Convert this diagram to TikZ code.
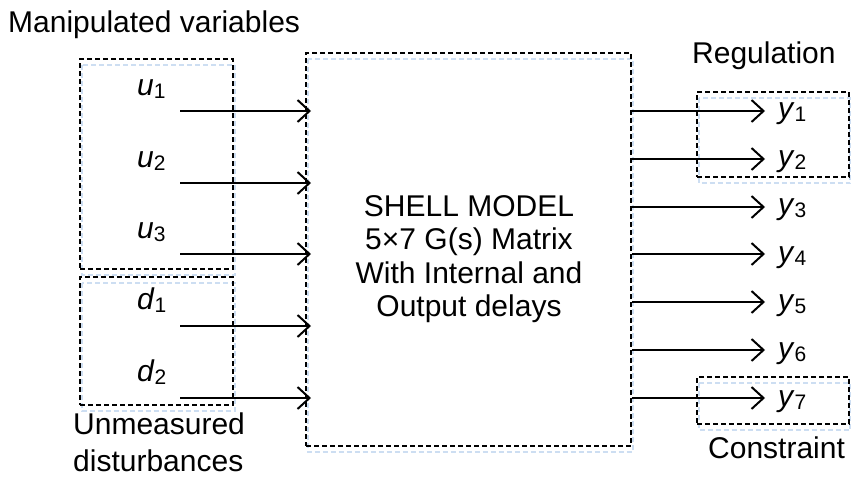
\documentclass[tikz,border=0pt]{standalone}
\usepackage{fontspec}
\setmainfont{Liberation Sans}
\usetikzlibrary{arrows.meta}
\definecolor{lblue}{RGB}{205,222,242}
\newcommand{\sv}[2]{\textit{#1}\raisebox{-3.5pt}{\fontsize{21}{21}\selectfont #2}}
\begin{document}
\begin{tikzpicture}[x=1pt,y=-1pt,
  dbox/.style={draw=black,line width=2.8pt,dash pattern=on 5pt off 3pt,inner sep=0pt},
  sbox/.style={draw=lblue,line width=2pt,dash pattern=on 5pt off 3pt},
  arr/.style={-{Straight Barb[length=12pt,width=22pt]},line width=2pt},
  lbl/.style={font=\fontsize{30}{36}\selectfont,inner sep=0pt,anchor=base west},
]
\useasboundingbox (0,0) rectangle (851,477);

% light blue shadow rectangles
\draw[sbox] (81.5,65) rectangle (234.5,275);
\draw[sbox] (81.5,283) rectangle (234.5,411);
\draw[sbox] (307.5,59) rectangle (632.5,452);
\draw[sbox] (698.5,98) rectangle (850,183);
\draw[sbox] (698.5,383) rectangle (850,430);

% boxes
\node[dbox,minimum width=153pt,minimum height=210pt] (ubox) at (156.5,164) {};
\node[dbox,minimum width=153pt,minimum height=128pt] (dbx) at (156.5,341) {};
\node[dbox,minimum width=325pt,minimum height=393pt] (main) at (468.5,249.5) {};
\node[dbox,minimum width=152pt,minimum height=85pt] (reg) at (773,134.5) {};
\node[dbox,minimum width=152pt,minimum height=47pt] (con) at (773,400.5) {};

% main text
\node[font=\fontsize{30}{33.3}\selectfont,align=center,inner sep=0pt] (mtext) at (469,259)
  {SHELL MODEL\\5×7 G(s) Matrix\\With Internal and\\Output delays};

% group labels
\node[lbl] (manip) at (8,32) {Manipulated variables};
\node[font=\fontsize{30}{37}\selectfont,align=left,inner sep=0pt,anchor=west] (unmeas) at (73,442.75) {Unmeasured\\disturbances};
\node[lbl] (regl) at (692,63) {Regulation};
\node[lbl] (conl) at (708,458) {Constraint};

% input labels
\node[lbl] (lu1) at (137,95) {\sv{u}{1}};
\node[lbl] (lu2) at (137,167) {\sv{u}{2}};
\node[lbl] (lu3) at (137,238) {\sv{u}{3}};
\node[lbl] (ld1) at (137,309) {\sv{d}{1}};
\node[lbl] (ld2) at (137,381) {\sv{d}{2}};

% output labels
\node[lbl] (ly1) at (778,118) {\sv{y}{1}};
\node[lbl] (ly2) at (778,166) {\sv{y}{2}};
\node[lbl] (ly3) at (778,214) {\sv{y}{3}};
\node[lbl] (ly4) at (778,262) {\sv{y}{4}};
\node[lbl] (ly5) at (778,310) {\sv{y}{5}};
\node[lbl] (ly6) at (778,358) {\sv{y}{6}};
\node[lbl] (ly7) at (778,406) {\sv{y}{7}};

% input arrow coordinates
\coordinate (ie) at (311,0);
\coordinate (i1) at (180,111);
\coordinate (i2) at (180,183);
\coordinate (i3) at (180,254);
\coordinate (i4) at (180,326);
\coordinate (i5) at (180,398);
\foreach \i in {1,...,5}{
  \draw[arr] (i\i) -- (i\i -| ie);
}

% output arrow coordinates
\coordinate (o1) at (765,111);
\coordinate (o2) at (765,159);
\coordinate (o3) at (765,207);
\coordinate (o4) at (765,254);
\coordinate (o5) at (765,302);
\coordinate (o6) at (765,350);
\coordinate (o7) at (765,398);
\foreach \i in {1,...,7}{
  \draw[arr] (main.east |- o\i) -- (o\i);
}
\end{tikzpicture}
\end{document}
